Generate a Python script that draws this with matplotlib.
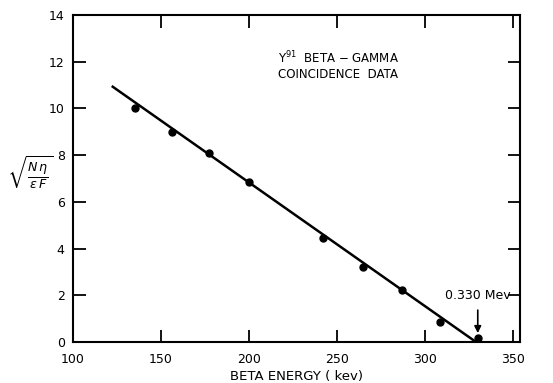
import matplotlib
matplotlib.use("Agg")
import matplotlib.pyplot as plt

energy_kev = [135, 156, 177.5, 200, 242, 265, 287, 308.5, 330]
sqrt_ratio = [10.03, 9.0, 8.1, 6.87, 4.47, 3.2, 2.23, 0.84, 0.16]
fit_x = [122, 329]
fit_y = [10.96, 0.0]
x_ticks = [100, 150, 200, 250, 300, 350]
y_ticks = [0, 2, 4, 6, 8, 10, 12, 14]

plt.rcParams['font.family'] = ['DejaVu Sans']
fig = plt.figure(figsize=(5.53, 3.83), dpi=100)
ax = fig.add_axes([73/553, 1-342/383, (520-73)/553, (342-15)/383])
ax.set_xlim(100, 354)
ax.set_ylim(0, 14)

ax.plot(fit_x, fit_y, color='black', lw=1.8, solid_capstyle='butt')
ax.plot(energy_kev, sqrt_ratio, 'o', color='black', ms=5)

ax.set_xticks(x_ticks)
ax.set_yticks(y_ticks)
ax.tick_params(direction='in', length=9, width=1.3, labelsize=9, top=True, right=True,
               pad=6)
ax.tick_params(axis='x', pad=8)
for s in ax.spines.values():
    s.set_linewidth(1.5)

ax.set_xlabel('BETA ENERGY ( kev)', fontsize=9.5, labelpad=3)
ax.set_ylabel(r'$\sqrt{\frac{N\,\eta}{\epsilon\, F}}$', rotation=0, fontsize=13,
              ha='center', va='center')
ax.yaxis.set_label_coords(-0.096, 0.52)

ax.text(216.5, 12.15, r'Y$^{91}$  BETA $-$ GAMMA', fontsize=8.5, va='center', ha='left')
ax.text(216.5, 11.45, 'COINCIDENCE  DATA', fontsize=8.5, va='center', ha='left')

ax.annotate('0.330 Mev', xy=(330, 0.38), xytext=(330, 2.0), fontsize=9,
            ha='center', va='center',
            arrowprops=dict(arrowstyle='-|>', color='black', lw=1.2,
                            shrinkA=4, shrinkB=0, mutation_scale=10))

fig.savefig('out.png', dpi=100)
